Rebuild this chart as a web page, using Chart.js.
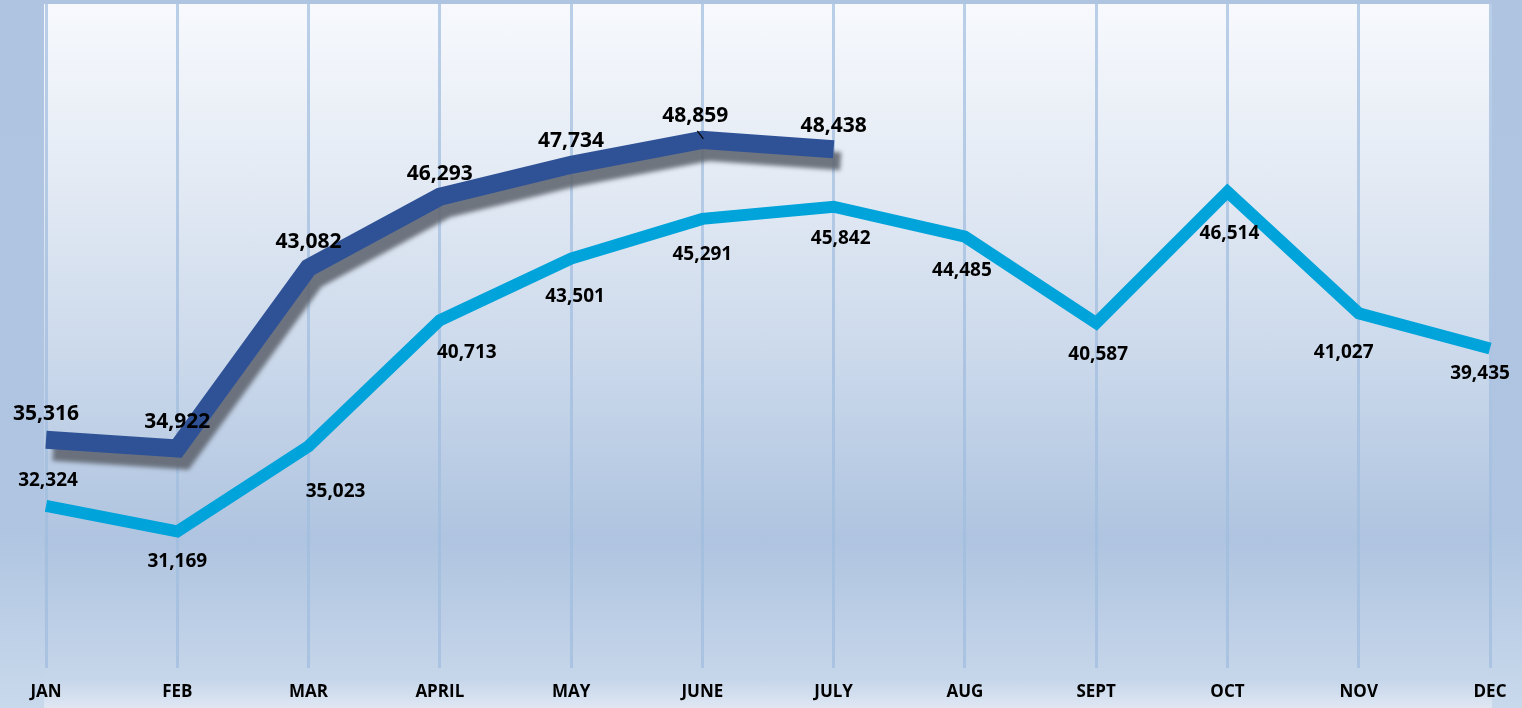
<!DOCTYPE html>
<html>
<head>
<meta charset="utf-8">
<script src="https://cdn.jsdelivr.net/npm/chart.js@4/dist/chart.umd.min.js"></script>
<style>
	html, body { margin: 0; padding: 0; }
	body {
		width: 1522px;
		height: 708px;
		overflow: hidden;
		position: relative;
		background: linear-gradient(to bottom, #aec4e0 0%, #afc5e1 75%, #c9d9ec 100%);
	}
	#panel {
		position: absolute;
		left: 44px;
		top: 4px;
		width: 1448px;
		height: 704px;
		background: linear-gradient(to bottom, #f7f9fd 0%, #e3eaf4 25%, #cbd9eb 50%, #afc4e0 76%, #c6d6ea 96%, #dfe7f3 100%);
	}
	#wrap { position: absolute; left: 0; top: 0; width: 1522px; height: 708px; }
</style>
</head>
<body>
<div id="panel"></div>
<div id="wrap"><canvas id="salesChart"></canvas></div>
<script>
const months = ['JAN', 'FEB', 'MAR', 'APRIL', 'MAY', 'JUNE', 'JULY', 'AUG', 'SEPT', 'OCT', 'NOV', 'DEC'];
const currentYear = [35316, 34922, 43082, 46293, 47734, 48859, 48438];
const previousYear = [32324, 31169, 35023, 40713, 43501, 45291, 45842, 44485, 40587, 46514, 41027, 39435];

(() => {
	'use strict'

	const numberFormatter = new Intl.NumberFormat('en-US', { maximumFractionDigits: 0 });

	// label nudges, index-aligned with months
	const previousDx = [2, 0, 27, 27, 4, 0, 7, -3, 2, 2, -15, -10];
	const previousDy = [-25, 30, 45, 32, 38, 36, 32, 34, 32, 42, 39, 25];
	const currentDx = [0, 0, 0, 0, 0, -7, 0];
	const currentDy = [-26, -26, -26, -23, -24, -24, -23];

	const shadowPlugin = {
		id: 'lineShadow',
		beforeDatasetDraw(chart, args) {
			if (args.index !== 1) return;
			const ctx = chart.ctx;
			ctx.save();
			ctx.shadowColor = 'rgba(95, 100, 110, 0.88)';
			ctx.shadowBlur = 4;
			ctx.shadowOffsetX = 7;
			ctx.shadowOffsetY = 12;
		},
		afterDatasetDraw(chart, args) {
			if (args.index !== 1) return;
			chart.ctx.restore();
		}
	};

	const valueLabels = {
		id: 'valueLabels',
		afterDatasetsDraw(chart) {
			const ctx = chart.ctx;
			ctx.save();
			ctx.textAlign = 'center';
			ctx.textBaseline = 'middle';
			ctx.fillStyle = '#000';

			const prevMeta = chart.getDatasetMeta(0);
			ctx.font = 'bold 19px "Open Sans"';
			prevMeta.data.forEach((pt, i) => {
				ctx.fillText(numberFormatter.format(previousYear[i]), pt.x + previousDx[i], pt.y + previousDy[i]);
			});

			const curMeta = chart.getDatasetMeta(1);
			ctx.font = 'bold 21px "Open Sans"';
			curMeta.data.forEach((pt, i) => {
				ctx.fillText(numberFormatter.format(currentYear[i]), pt.x + currentDx[i], pt.y + currentDy[i]);
			});

			// small leader line under the JUNE label
			const june = curMeta.data[5];
			if (june) {
				ctx.strokeStyle = '#000';
				ctx.lineWidth = 1.2;
				ctx.beginPath();
				ctx.moveTo(june.x - 5, june.y - 9);
				ctx.lineTo(june.x + 1, june.y - 1);
				ctx.stroke();
			}
			ctx.restore();
		}
	};

	new Chart(document.getElementById('salesChart'), {
		type: 'line',
		data: {
			labels: months,
			datasets: [
				{
					label: 'Previous year',
					data: previousYear,
					borderColor: '#00a3da',
					backgroundColor: 'transparent',
					borderWidth: 12,
					borderCapStyle: 'butt',
					borderJoinStyle: 'miter',
					tension: 0,
					pointRadius: 0
				},
				{
					label: 'Current year',
					data: currentYear,
					borderColor: '#2f5296',
					backgroundColor: 'transparent',
					borderWidth: 18,
					borderCapStyle: 'butt',
					borderJoinStyle: 'miter',
					tension: 0,
					pointRadius: 0
				}
			]
		},
		options: {
			responsive: true,
			maintainAspectRatio: false,
			animation: false,
			layout: {
				padding: { left: 46, right: 32, top: 4, bottom: 0 }
			},
			plugins: {
				legend: { display: false },
				tooltip: { enabled: false }
			},
			scales: {
				x: {
					offset: false,
					border: { display: false },
					grid: {
						color: 'rgba(160, 188, 222, 0.7)',
						lineWidth: 3,
						drawTicks: false
					},
					ticks: {
						padding: 14,
						color: '#000',
						font: { family: 'Open Sans', weight: 'bold', size: 17 },
						maxRotation: 0
					},
					afterFit(scale) {
						scale.height = 40;
					}
				},
				y: {
					display: false,
					min: 25000,
					max: 55000
				}
			}
		},
		plugins: [shadowPlugin, valueLabels]
	});
})()
</script>
</body>
</html>
